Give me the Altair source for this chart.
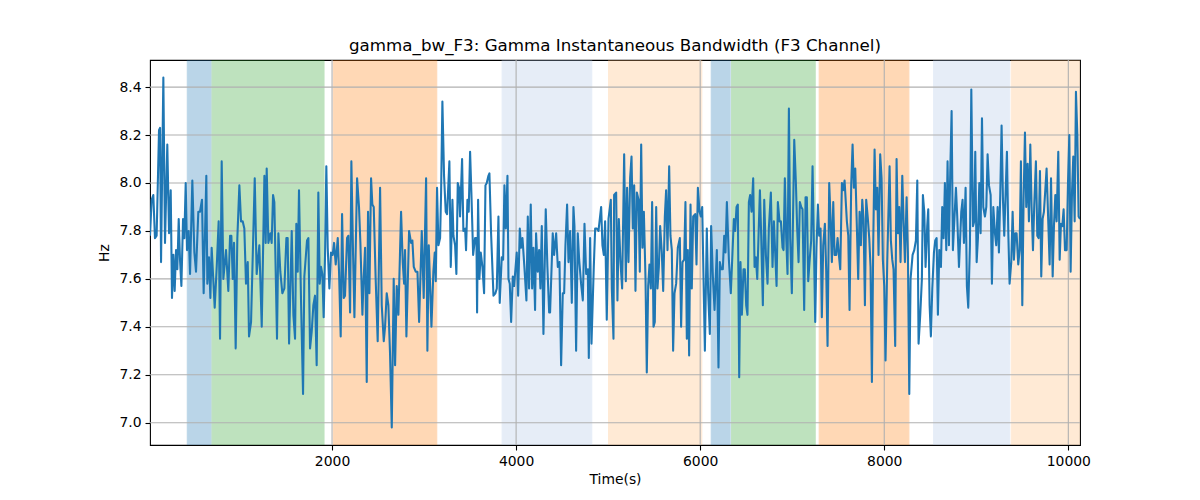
import altair as alt
import pandas as pd

# ---- signal (time in s, bandwidth in Hz) ----
time_s = [
    22, 40, 58, 76, 94, 120, 131, 142, 167, 185, 210, 229, 247, 261, 276, 290, 305, 319, 334, 348,
    363, 381, 395, 410, 424, 442, 457, 482, 504, 522, 547, 565, 587, 605, 634, 645, 663, 678, 692, 725,
    747, 768, 783, 801, 819, 848, 873, 892, 906, 921, 935, 953, 971, 993, 1011, 1029, 1047, 1065, 1084, 1098,
    1120, 1160, 1181, 1210, 1236, 1265, 1279,
    1290, 1308, 1330, 1344, 1359, 1373, 1402, 1417, 1438, 1460, 1482, 1504, 1518, 1533, 1562, 1580, 1598, 1612,
    1627, 1641, 1663, 1685, 1699, 1728, 1743, 1761, 1779, 1797, 1815, 1833, 1851, 1866, 1880, 1895, 1909, 1924,
    1938, 1953, 1971, 1989, 2007, 2022, 2040, 2062, 2076, 2094, 2109, 2127, 2141, 2163, 2177, 2196, 2210, 2228,
    2243, 2272, 2293, 2308, 2330, 2340, 2359, 2377, 2391, 2406, 2424, 2438, 2453, 2474, 2496, 2522, 2540, 2562,
    2576, 2594, 2612, 2630, 2649, 2670, 2685, 2703, 2721, 2750, 2768, 2783, 2793, 2808, 2837, 2859, 2873, 2888,
    2909, 2928, 2946, 2975, 2996, 3022, 3036, 3051, 3080, 3101, 3116, 3127, 3141, 3156, 3174, 3185, 3199, 3217,
    3235, 3250, 3275, 3290, 3308, 3319, 3337, 3351, 3366, 3380, 3391, 3413, 3427, 3446, 3456, 3471, 3485, 3500,
    3514, 3533, 3554, 3569, 3576, 3587, 3601, 3616, 3634, 3652, 3667, 3681, 3699, 3710, 3728, 3754, 3775, 3790,
    3808, 3822,
    3844, 3859, 3873, 3888, 3906, 3917, 3931, 3946, 3964, 3978, 4007, 4022, 4040, 4054, 4069, 4090, 4112, 4127,
    4141, 4159, 4174, 4188, 4206, 4217, 4235, 4250, 4264, 4279, 4297, 4322, 4340, 4359, 4369, 4398, 4413, 4435,
    4453, 4471, 4489, 4507, 4522, 4536, 4554, 4569, 4587, 4605, 4623, 4634, 4652, 4670, 4685, 4706, 4725, 4743,
    4761, 4779, 4790, 4804, 4819, 4844, 4859, 4877, 4895, 4924, 4938, 4953, 4967, 4985, 5004, 5029, 5040, 5058,
    5065, 5087, 5101, 5116, 5134, 5152, 5174, 5192, 5206, 5221, 5239, 5254, 5268, 5283, 5297, 5312, 5330, 5344,
    5359, 5373, 5388, 5406, 5420, 5435, 5449, 5464, 5478, 5493, 5507, 5522, 5536, 5551, 5565, 5583, 5598, 5616,
    5630, 5645, 5663, 5677, 5692, 5706, 5721, 5739, 5757, 5779, 5793, 5808, 5826, 5840, 5855, 5866, 5880, 5895,
    5909, 5924, 5946, 5960, 5975, 5993, 6007, 6022, 6051, 6072, 6087, 6105, 6119, 6138, 6156, 6181, 6199, 6214,
    6228, 6246, 6261, 6275, 6290, 6312,
    6333, 6351, 6366, 6380, 6395, 6409, 6424, 6438, 6453, 6471, 6485, 6500, 6514, 6529, 6543, 6558, 6576, 6591,
    6605, 6620, 6649, 6663, 6681, 6696, 6714, 6732, 6746, 6768, 6786, 6801, 6815, 6830, 6844, 6862, 6877, 6895,
    6906, 6920, 6935, 6949, 6964, 6978, 6996, 7022, 7040, 7054, 7069, 7083, 7098, 7112, 7130, 7145, 7159, 7174,
    7188, 7206, 7221, 7235, 7250, 7264, 7279, 7293, 7308, 7322, 7337, 7355, 7369, 7384, 7402, 7417, 7431, 7446,
    7460, 7478, 7493, 7507, 7522, 7540, 7554, 7569,
    7594, 7609, 7623, 7641, 7656, 7670, 7685, 7703, 7717, 7732, 7746, 7761, 7775, 7790, 7804, 7822, 7837, 7851,
    7866, 7880, 7895, 7909, 7924, 7938, 7956, 7971, 7985, 8000, 8014, 8033, 8058, 8072, 8087, 8101, 8119, 8134,
    8148, 8163, 8177, 8196, 8210, 8225, 8243, 8257, 8272, 8286, 8308, 8326, 8344, 8359, 8373, 8391, 8409, 8420,
    8435, 8449, 8467, 8478, 8493, 8507, 8522, 8540, 8554, 8569, 8583, 8598, 8616, 8630, 8645, 8659, 8674, 8688,
    8703, 8717, 8732, 8746, 8761, 8779, 8793, 8812,
    8837, 8851, 8866, 8884, 8898, 8913, 8931, 8946, 8964, 8978, 8989, 9004, 9018, 9033, 9047, 9062, 9076, 9094,
    9109, 9123, 9138, 9156, 9170, 9185, 9203, 9217, 9232, 9246, 9261, 9275, 9290, 9304, 9319, 9333, 9348, 9362,
    9380, 9395, 9409, 9424, 9438, 9456, 9471, 9485, 9500, 9514, 9529, 9543, 9558, 9572, 9587, 9601, 9616, 9630,
    9648, 9663, 9677, 9692, 9706, 9721, 9735, 9750, 9764, 9783, 9797, 9812, 9830, 9844, 9859, 9873, 9891, 9906,
    9920, 9935, 9949, 9964, 9982, 9996, 10011, 10025, 10040, 10054, 10069, 10083, 10098, 10112, 10127,
]

bw_hz = [
    7.78, 7.93, 7.95, 7.77, 7.78, 8.22, 8.23, 7.67, 8.44, 7.75, 8.16, 7.79, 7.97, 7.52, 7.70, 7.55, 7.72, 7.64, 7.85, 7.68,
    7.57, 7.85, 7.77, 8.00, 7.72, 7.80, 7.62, 8.01, 7.71, 7.63, 7.88, 7.88, 7.93, 7.54, 8.03, 7.58, 7.69, 7.52, 7.73, 7.48,
    7.65, 7.84, 7.35, 8.09, 7.60, 7.72, 7.55, 7.78, 7.78, 7.60, 7.75, 7.31, 7.77, 7.99, 7.84, 7.84, 7.81, 7.58, 7.67, 7.36,
    7.42, 8.02, 7.62, 7.74, 7.40, 8.03, 7.75,
    8.06, 7.75, 7.79, 7.75, 7.95, 7.92, 7.35, 7.79, 7.63, 7.54, 7.56, 7.77, 7.77, 7.33, 7.80, 7.45, 7.35, 7.83,
    7.63, 7.97, 7.51, 7.12, 7.61, 7.76, 7.77, 7.31, 7.38, 7.49, 7.53, 7.24, 7.96, 7.58, 7.65, 7.62, 7.44, 7.70,
    8.07, 7.73, 7.56, 7.71, 7.70, 7.75, 7.66, 7.77, 7.63, 7.36, 7.87, 7.52, 7.53, 7.77, 7.78, 7.46, 8.09, 7.71,
    7.44, 8.02, 7.90, 7.75, 7.45, 7.57, 7.73, 7.17, 7.88, 7.54, 8.02, 7.91, 7.90, 7.60, 7.34, 7.98, 7.49, 7.34,
    7.40, 7.54, 7.49, 7.29, 6.98, 7.60, 7.24, 7.57, 7.45, 7.88, 7.67, 7.58, 7.72, 7.36, 7.80, 7.75, 7.76, 7.65,
    7.63, 7.63, 7.42, 7.80, 7.52, 8.02, 7.30, 7.74, 7.40, 7.63, 7.71, 7.59, 7.98, 7.74, 7.77, 7.96, 8.34, 8.03,
    7.88, 7.87, 8.09, 7.65, 7.93, 7.78, 7.74, 7.62, 8.00, 7.98, 7.86, 8.10, 7.80, 7.81, 7.72, 7.93, 7.88, 8.13,
    7.96, 7.70, 7.77, 7.77, 7.46, 7.93, 7.60, 7.71, 7.65, 7.54, 7.99, 8.00, 8.03, 8.04, 7.79, 7.53, 7.54, 7.56,
    7.86, 7.50,
    7.69, 7.68, 7.99, 7.81, 8.03, 7.60, 7.58, 7.42, 7.61, 7.57, 7.71, 7.53, 7.81, 7.73, 7.77, 7.65, 7.51, 7.86,
    7.56, 7.91, 7.56, 7.73, 7.47, 7.79, 7.63, 7.72, 7.56, 7.82, 7.37, 7.89, 7.65, 7.46, 7.46, 7.79, 7.70, 7.79,
    7.65, 7.67, 7.24, 7.54, 7.54, 7.74, 7.91, 7.67, 7.80, 7.50, 7.90, 7.82, 7.30, 7.79, 7.68, 7.58, 7.51, 7.83,
    7.62, 7.64, 7.27, 7.77, 7.33, 7.65, 7.81, 7.81, 7.80, 7.90, 7.74, 7.70, 7.84, 7.43, 7.85, 7.93, 7.56, 7.35,
    7.95, 7.96, 7.51, 7.85, 7.67, 7.56, 8.12, 7.59, 7.98, 7.67, 8.02, 8.11, 7.81, 7.99, 7.55, 7.96, 7.93, 7.63,
    8.16, 7.73, 7.88, 7.60, 7.21, 7.57, 7.66, 7.56, 7.92, 7.40, 7.42, 7.90, 7.56, 7.65, 7.82, 7.71, 7.55, 7.86,
    7.97, 7.72, 8.07, 7.78, 7.72, 7.30, 7.54, 7.58, 7.73, 7.77, 7.40, 7.67, 7.68, 7.92, 7.35, 7.72, 7.28, 7.91,
    7.56, 7.86, 7.87, 7.66, 7.98, 7.88, 7.86, 7.90, 7.30, 7.81, 7.54, 7.37, 7.82, 7.61, 7.47, 7.72, 7.23, 7.67,
    7.64, 7.64, 7.78, 7.71, 7.92, 7.68,
    7.54, 7.71, 7.85, 7.80, 7.90, 7.91, 7.19, 7.67, 7.45, 7.64, 7.64, 7.49, 7.45, 7.92, 7.95, 7.88, 8.02, 7.65,
    7.69, 7.60, 7.97, 7.78, 7.49, 7.93, 7.70, 7.58, 7.81, 7.96, 7.65, 7.84, 7.71, 7.57, 7.92, 7.84, 7.84, 7.73,
    7.72, 8.02, 7.77, 7.62, 8.31, 7.77, 7.54, 8.18, 8.00, 7.81, 7.67, 7.92, 7.90, 7.89, 7.47, 7.94, 7.94, 7.59,
    7.67, 7.76, 8.07, 7.76, 7.42, 7.73, 7.91, 7.78, 7.81, 7.44, 7.74, 7.83, 7.64, 7.32, 8.00, 7.85, 7.67, 7.92,
    7.70, 7.70, 7.77, 7.70, 7.64, 8.00, 7.97, 8.01,
    7.84, 7.78, 7.47, 7.99, 8.16, 7.98, 8.06, 7.81, 7.60, 7.88, 7.74, 7.93, 7.85, 7.49, 7.93, 7.85, 7.77, 7.65,
    7.17, 7.74, 8.14, 7.89, 7.98, 7.70, 8.12, 8.02, 7.68, 7.57, 7.26, 7.68, 8.07, 7.76, 7.68, 7.64, 7.32, 8.10,
    7.79, 7.90, 7.67, 8.03, 7.84, 7.67, 7.94, 7.71, 7.12, 7.60, 7.70, 7.72, 7.76, 8.01, 7.33, 7.45, 7.60, 7.95,
    7.88, 7.65, 7.82, 7.89, 7.49, 7.36, 7.56, 7.71, 7.76, 7.77, 7.45, 7.72, 7.65, 7.90, 7.77, 8.00, 7.72, 8.09,
    7.74, 8.04, 8.30, 7.72, 7.84, 7.98, 7.86, 7.65,
    7.88, 7.93, 7.75, 7.98, 7.57, 7.48, 7.74, 8.39, 7.82, 7.84, 8.13, 7.67, 7.77, 8.00, 7.79, 8.27, 7.90, 7.86,
    7.90, 8.12, 7.99, 7.95, 7.58, 7.90, 7.79, 7.74, 7.90, 7.71, 7.96, 8.24, 7.93, 7.78, 7.96, 8.13, 7.79, 7.58,
    7.67, 7.88, 7.68, 7.79, 7.79, 7.66, 7.72, 8.09, 7.49, 7.93, 8.21, 7.90, 8.08, 7.84, 8.16, 7.90, 7.72, 7.91,
    8.09, 7.78, 7.77, 8.05, 7.61, 7.85, 7.88, 7.97, 8.06, 7.83, 7.66, 8.02, 7.61, 7.82, 7.95, 7.84, 8.13, 7.68,
    7.83, 7.82, 7.89, 7.72, 7.72, 7.99, 8.20, 7.63, 7.96, 8.11, 7.84, 8.38, 8.20, 7.86, 7.85,
]

# ---- shaded intervals ----
span_start = [427, 696, 2014, 3848, 5004, 6120, 6341, 7293, 8536, 9380]
span_end = [685, 1913, 3138, 4822, 6018, 6326, 7250, 8268, 9362, 10127]
span_state = ["A", "B", "C", "D", "E", "A", "B", "C", "D", "E"]
state_names = ["A", "B", "C", "D", "E"]
state_colors = ["#1f77b4", "#2ca02c", "#ff7f0e", "#aec7e8", "#ffbb78"]
state_alpha = [0.3, 0.3, 0.3, 0.3, 0.3]

x_ticks = [2000, 4000, 6000, 8000, 10000]
y_ticks = [7.0, 7.2, 7.4, 7.6, 7.8, 8.0, 8.2, 8.4]

signal = pd.DataFrame({"t": time_s, "v": bw_hz})
spans = pd.DataFrame({"start": span_start, "end": span_end, "state": span_state})
xgrid = pd.DataFrame({"t": x_ticks})
ygrid = pd.DataFrame({"v": y_ticks})

x_dom = [min(time_s), max(time_s)]
rng = max(bw_hz) - min(bw_hz)
y_dom = [min(bw_hz) - 0.05 * rng, max(bw_hz) + 0.05 * rng]

FONT = "DejaVu Sans"
xs = alt.Scale(domain=x_dom, nice=False, zero=False)
ys = alt.Scale(domain=y_dom, nice=False, zero=False)

axis_common = dict(
    grid=False, domain=False, tickColor="black", tickSize=5, tickWidth=1.1,
    labelPadding=4, labelFontSize=13.9, titleFontSize=13.9, labelColor="black",
    titleColor="black", titleFontWeight="normal", labelFont=FONT, titleFont=FONT,
)
x_axis = alt.Axis(values=x_ticks, format="d", title="Time(s)", titlePadding=5, **axis_common)
y_axis = alt.Axis(values=y_ticks, format=".1f", title="Hz", titlePadding=7, **axis_common)

color_scale = alt.Scale(domain=state_names, range=state_colors)
alpha_scale = alt.Scale(domain=state_names, range=state_alpha)

rects = alt.Chart(spans).mark_rect(strokeWidth=1, clip=True).encode(
    x=alt.X("start:Q", scale=xs, axis=x_axis),
    x2="end:Q",
    color=alt.Color("state:N", scale=color_scale, legend=None),
    stroke=alt.Stroke("state:N", scale=color_scale, legend=None),
    opacity=alt.Opacity("state:N", scale=alpha_scale, legend=None),
)

vgrid = alt.Chart(xgrid).mark_rule(color="#b0b0b0", strokeWidth=1.1).encode(
    x=alt.X("t:Q", scale=xs, axis=x_axis)
)
hgrid = alt.Chart(ygrid).mark_rule(color="#b0b0b0", strokeWidth=1.1).encode(
    y=alt.Y("v:Q", scale=ys, axis=y_axis)
)

line = alt.Chart(signal).mark_line(
    color="#1f77b4", strokeWidth=2.08, strokeJoin="round", clip=True
).encode(
    x=alt.X("t:Q", scale=xs, axis=x_axis),
    y=alt.Y("v:Q", scale=ys, axis=y_axis),
)

chart = alt.layer(rects, vgrid, hgrid, line).properties(
    width=930,
    height=385,
    title=alt.TitleParams(
        "gamma_bw_F3: Gamma Instantaneous Bandwidth (F3 Channel)",
        fontSize=16.7, font=FONT, fontWeight="normal", color="black",
        anchor="middle", offset=5,
    ),
    autosize=alt.AutoSizeParams(type="none"),
    padding={"left": 142, "top": 52, "right": 112, "bottom": 47},
).configure_view(stroke="black", strokeWidth=1.1)

chart.save("out.html", embed_options={"renderer": "svg", "actions": False})
